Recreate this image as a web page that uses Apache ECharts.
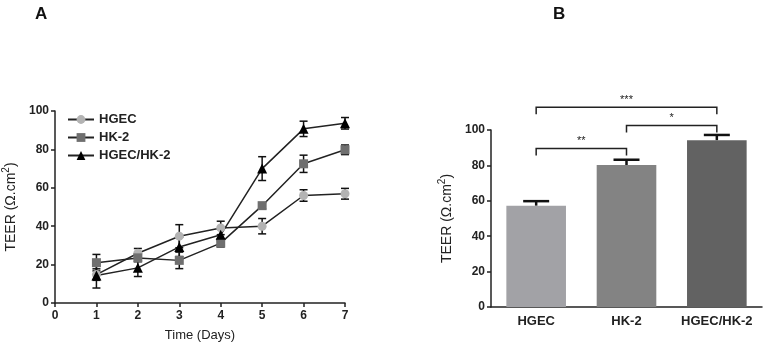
<!DOCTYPE html>
<html>
<head>
<meta charset="utf-8">
<script src="https://cdn.jsdelivr.net/npm/echarts@6/dist/echarts.min.js"></script>
<style>
  html, body { margin: 0; padding: 0; background: #fff; }
  #chart { width: 764px; height: 347px; }
</style>
</head>
<body>
<div id="chart"></div>
<script>
// panel A: TEER over time
const days = [1, 2, 3, 4, 5, 6, 7]
const hgec = [14.8, 25.9, 34.8, 39.1, 40.0, 56.0, 56.9]
const hgecErr = [3, 2.5, 6, 3.5, 4, 3, 2.8]
const hk2 = [21.0, 23.5, 22.2, 31.2, 50.7, 72.5, 79.8]
const hk2Err = [4.3, 2, 4.3, 2, 1.5, 4.5, 2.5]
const coculture = [14.3, 18.3, 29.2, 35.5, 70.0, 90.7, 93.6]
const cocultureErr = [6.5, 4.5, 5, 3, 6.2, 4, 3]

// panel B: day 7 comparison
const groups = ['HGEC', 'HK-2', 'HGEC/HK-2']
const means = [57.2, 80.2, 94.2]
const sems = [2.6, 3.0, 3.0]
const brackets = [[0, 1, 89.5, '**'], [1, 2, 102.5, '*'], [0, 2, 112.8, '***']]

const font = 'Liberation Sans, Arial, sans-serif'
const axisText = { color: '#222', fontFamily: font, fontWeight: 'bold', fontSize: 12 }
const axisLine = { lineStyle: { color: '#222', width: 1.5 } }
const axisTick = { length: 4, lineStyle: { color: '#222', width: 1.5 } }
const teerName = 'TEER (Ω.cm{sup|2})'
const teerStyle = {
    color: '#222', fontFamily: font, fontSize: 14,
    rich: { sup: { fontSize: 10, fontFamily: font, color: '#222', padding: [0, 0, 10, 0] } }
}

const chart = echarts.init(document.getElementById('chart'))

function errSeries(name, vals, errs) {
    return {
        type: 'custom',
        name: name + ' err',
        xAxisIndex: 0,
        yAxisIndex: 0,
        z: 1,
        silent: true,
        data: days.map((d, i) => [d, vals[i] - errs[i], vals[i] + errs[i]]),
        renderItem: (params, api) => {
            const lo = api.coord([api.value(0), api.value(1)])
            const hi = api.coord([api.value(0), api.value(2)])
            const w = 4
            const st = { stroke: '#111', lineWidth: 1.5 }
            return {
                type: 'group',
                children: [
                    { type: 'line', shape: { x1: lo[0], y1: lo[1], x2: hi[0], y2: hi[1] }, style: st },
                    { type: 'line', shape: { x1: lo[0] - w, y1: lo[1], x2: lo[0] + w, y2: lo[1] }, style: st },
                    { type: 'line', shape: { x1: hi[0] - w, y1: hi[1], x2: hi[0] + w, y2: hi[1] }, style: st }
                ]
            }
        }
    }
}

function lineSeries(name, vals, symbol, color, size) {
    return {
        type: 'line',
        name,
        xAxisIndex: 0,
        yAxisIndex: 0,
        z: 3,
        symbol,
        symbolSize: size,
        data: days.map((d, i) => [d, vals[i]]),
        lineStyle: { color: '#222', width: 1.5 },
        itemStyle: { color, borderWidth: 0 }
    }
}

const option = {
    animation: false,
    backgroundColor: '#fff',
    title: [
        { text: 'A', left: 30, top: 1, textStyle: { fontFamily: font, fontSize: 17, fontWeight: 'bold', color: '#111' } },
        { text: 'B', left: 548, top: 1, textStyle: { fontFamily: font, fontSize: 17, fontWeight: 'bold', color: '#111' } }
    ],
    legend: {
        data: ['HGEC', 'HK-2', 'HGEC/HK-2'],
        orient: 'vertical',
        left: 62,
        top: 108,
        itemGap: 5,
        itemWidth: 26,
        itemHeight: 11,
        textStyle: { color: '#222', fontFamily: font, fontWeight: 'bold', fontSize: 13 }
    },
    grid: [
        { left: 53, right: 419, top: 111, bottom: 43, containLabel: false },
        { left: 491, right: 2, top: 130, bottom: 40, containLabel: false }
    ],
    xAxis: [
        {
            type: 'value', gridIndex: 0, min: 0, max: 7, interval: 1,
            name: 'Time (Days)', nameLocation: 'middle', nameGap: 26,
            nameTextStyle: { color: '#222', fontFamily: font, fontSize: 13 },
            axisLine, axisTick, axisLabel: { ...axisText, margin: 7 },
            splitLine: { show: false }
        },
        {
            type: 'category', gridIndex: 1, data: groups,
            axisLine, axisTick: { ...axisTick, alignWithLabel: true, interval: 0 },
            axisLabel: { ...axisText, fontSize: 13, margin: 8, interval: 0 }
        }
    ],
    yAxis: [
        {
            type: 'value', gridIndex: 0, min: 0, max: 100, interval: 20,
            name: teerName, nameLocation: 'middle', nameGap: 34, nameTextStyle: teerStyle,
            axisLine: { show: true, ...axisLine }, axisTick: { show: true, ...axisTick },
            axisLabel: { ...axisText, margin: 6 }, splitLine: { show: false }
        },
        {
            type: 'value', gridIndex: 1, min: 0, max: 100, interval: 20,
            name: teerName, nameLocation: 'middle', nameGap: 34, nameTextStyle: teerStyle,
            axisLine: { show: true, ...axisLine }, axisTick: { show: true, ...axisTick },
            axisLabel: { ...axisText, margin: 6 }, splitLine: { show: false }
        }
    ],
    series: [
        errSeries('HGEC', hgec, hgecErr),
        errSeries('HK-2', hk2, hk2Err),
        errSeries('HGEC/HK-2', coculture, cocultureErr),
        lineSeries('HGEC', hgec, 'circle', '#b3b3b3', 9),
        lineSeries('HK-2', hk2, 'rect', '#6f6f6f', 9),
        lineSeries('HGEC/HK-2', coculture, 'triangle', '#000', 10),
        {
            type: 'custom',
            name: 'sem',
            xAxisIndex: 1,
            yAxisIndex: 1,
            z: 1,
            silent: true,
            data: groups.map((g, i) => [i, means[i], means[i] + sems[i]]),
            renderItem: (params, api) => {
                const lo = api.coord([api.value(0), api.value(1)])
                const hi = api.coord([api.value(0), api.value(2)])
                const st = { stroke: '#111', lineWidth: 2.5 }
                return {
                    type: 'group',
                    children: [
                        { type: 'line', shape: { x1: lo[0], y1: lo[1], x2: hi[0], y2: hi[1] }, style: st },
                        { type: 'line', shape: { x1: hi[0] - 13, y1: hi[1], x2: hi[0] + 13, y2: hi[1] }, style: st }
                    ]
                }
            }
        },
        {
            type: 'bar',
            name: 'day7',
            xAxisIndex: 1,
            yAxisIndex: 1,
            z: 2,
            barWidth: '66%',
            data: means.map((v, i) => ({
                value: v,
                itemStyle: { color: ['#a2a2a6', '#838383', '#626262'][i] }
            }))
        },
        {
            type: 'custom',
            name: 'sig',
            xAxisIndex: 1,
            yAxisIndex: 1,
            z: 3,
            silent: true,
            data: brackets,
            renderItem: (params, api) => {
                const p0 = api.coord([api.value(0), api.value(2)])
                const p1 = api.coord([api.value(1), api.value(2)])
                const drop = 7
                return {
                    type: 'group',
                    children: [
                        {
                            type: 'polyline',
                            shape: { points: [[p0[0], p0[1] + drop], [p0[0], p0[1]], [p1[0], p1[1]], [p1[0], p1[1] + drop]] },
                            style: { stroke: '#222', lineWidth: 1.5, fill: null }
                        },
                        {
                            type: 'text',
                            x: (p0[0] + p1[0]) / 2,
                            y: p0[1] - 2,
                            style: {
                                text: brackets[params.dataIndex][3],
                                fill: '#222', fontFamily: font, fontSize: 11,
                                align: 'center', verticalAlign: 'bottom'
                            }
                        }
                    ]
                }
            }
        }
    ]
}

chart.setOption(option)

window.addEventListener('resize', () => {
    chart.resize()
})
</script>
</body>
</html>
